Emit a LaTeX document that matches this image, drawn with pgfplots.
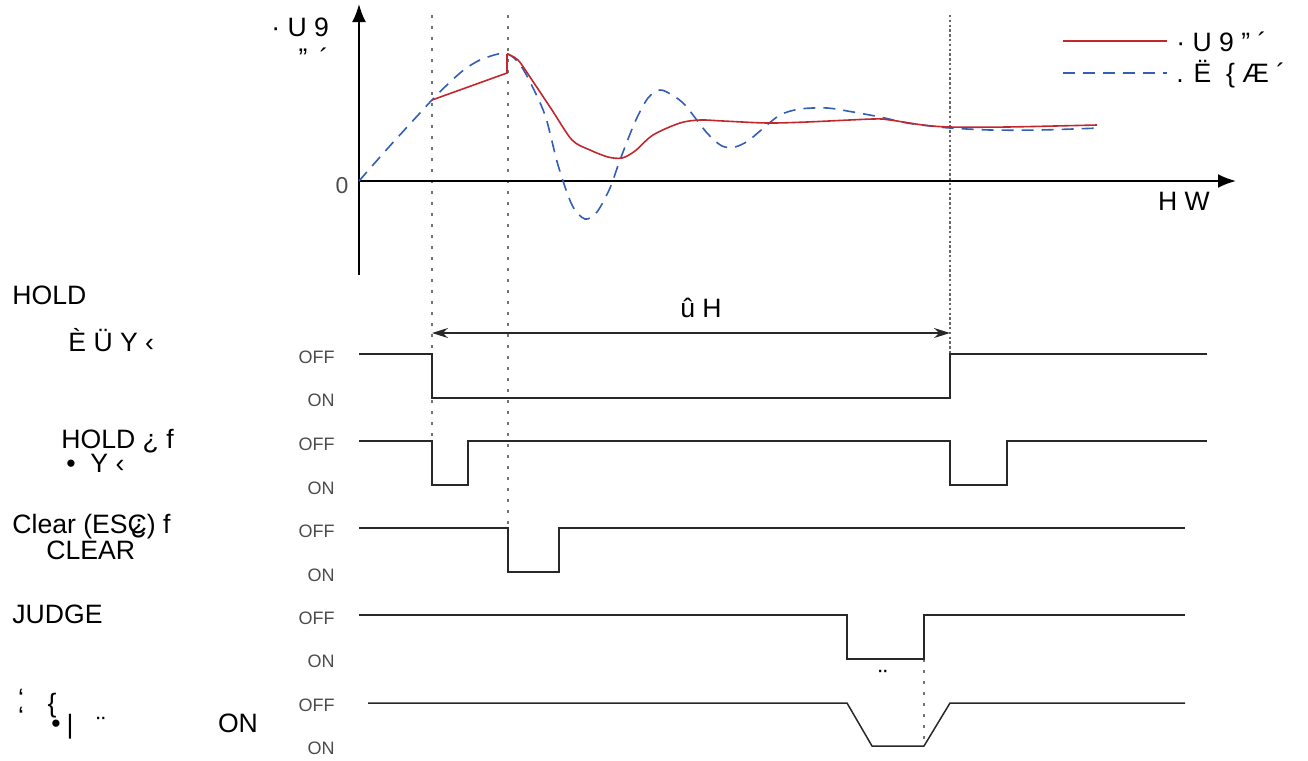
\documentclass[border=0pt]{standalone}
\usepackage{pgfplots}
\pgfplotsset{compat=1.18}
\usepackage{fontspec}
\setmainfont{Liberation Sans}
\usetikzlibrary{arrows.meta}
\definecolor{cred}{RGB}{192,40,45}
\definecolor{cblue}{RGB}{50,95,180}
\definecolor{sig}{RGB}{40,40,40}
\newcommand{\bigf}{\fontsize{13.3}{14}\selectfont}
\newcommand{\smlf}{\fontsize{9}{10}\selectfont\color{black!70}}
\begin{document}
\begin{tikzpicture}
\begin{axis}[scale only axis, width=654pt, height=380.5pt,
  xmin=0, xmax=1308, ymin=0, ymax=761, y dir=reverse,
  hide axis, clip=false]

% frame of the picture (invisible)
\path (axis cs:0,0) rectangle (axis cs:1308,761);

% guide lines
\draw[black!55, line width=0.8pt, dash pattern=on 1.5pt off 4pt] (axis cs:432,15) -- (axis cs:432,440);
\draw[black!55, line width=0.8pt, dash pattern=on 1.5pt off 4pt] (axis cs:508,15) -- (axis cs:508,528);
\draw[black!60, line width=1pt, dash pattern=on 1.2pt off 1.2pt] (axis cs:950,15) -- (axis cs:950,354);
\draw[black!55, line width=0.8pt, dash pattern=on 1.5pt off 4pt] (axis cs:924,659) -- (axis cs:924,746);

% axes of the top plot
\draw[black, line width=1pt, -{Latex[length=9pt,width=7pt]}] (axis cs:359,275) -- (axis cs:359,4);
\draw[black, line width=1pt, -{Latex[length=9pt,width=7pt]}] (axis cs:359,181) -- (axis cs:1236,181);

% curves
\addplot[cblue, line width=0.8pt, dash pattern=on 6pt off 4pt, smooth, tension=0.5] coordinates {
(359,181) (388,148) (420,113) (432,100) (450,82) (465,69) (480,60) (498,54) (508,54)
(518,62) (528,78) (545,115) (558,165) (572,205) (585,219) (597,212) (610,188) (620,160)
(635,122) (648,98) (660,90) (672,95) (685,105) (707,133) (722,146) (735,147) (748,141)
(760,131) (780,115) (800,109) (827,108) (853,112) (880,117) (907,123) (930,126) (950,128)
(990,130) (1040,130) (1100,128)};
\addplot[cred, line width=0.8pt] coordinates {(432,100) (507,73) (507,54)};
\addplot[cred, line width=0.8pt, smooth, tension=0.5] coordinates {
(507,54) (518,60) (532,80) (552,110) (572,140) (590,150) (608,157) (622,158) (635,151)
(653,135) (680,123) (700,120) (723,121) (767,123) (807,122) (873,119) (890,120) (923,125)
(950,127) (1007,127) (1097,125)};

% legend
\addplot[cred, line width=0.8pt] coordinates {(1063,41) (1167,41)};
\addplot[cblue, line width=0.8pt, dash pattern=on 6pt off 4pt] coordinates {(1063,73) (1167,73)};
\node[anchor=west, inner sep=0pt] at (axis cs:1176,42) {\bigf · U 9 ” ´};
\node[anchor=west, inner sep=0pt] at (axis cs:1176,74) {\bigf . Ë \ \{ Æ ´};

% signals
\addplot[sig, line width=0.75pt] coordinates {(359,354)(432,354)(432,398)(950,398)(950,354)(1207,354)};
\addplot[sig, line width=0.75pt] coordinates {(359,441)(432,441)(432,485)(468,485)(468,441)(950,441)(950,485)(1007,485)(1007,441)(1207,441)};
\addplot[sig, line width=0.75pt] coordinates {(359,528)(508,528)(508,572)(559,572)(559,528)(1185,528)};
\addplot[sig, line width=0.75pt] coordinates {(359,615)(847,615)(847,659)(924,659)(924,615)(1185,615)};
\addplot[sig, line width=0.75pt] coordinates {(368,703)(847,703)(872,746)(924,746)(950,703)(1185,703)};

% double arrow
\draw[sig, line width=0.75pt, {Stealth[length=8pt,width=5pt]}-{Stealth[length=8pt,width=5pt]}] (axis cs:432,333) -- (axis cs:950,333);
\node[inner sep=0pt] at (axis cs:701,308) {\bigf û H};

% axis texts
\node[inner sep=0pt] at (axis cs:342,186) {\fontsize{11.5}{12}\selectfont\color{black!70} 0};
\node[inner sep=0pt] at (axis cs:1184,201) {\bigf H W};
\node[anchor=west, inner sep=0pt] at (axis cs:271,27) {\bigf · U 9};
\node[inner sep=0pt] at (axis cs:303,52) {\bigf „};
\node[inner sep=0pt] at (axis cs:324,58) {\bigf ´};

% OFF / ON labels
\node[anchor=east, inner sep=0pt] at (axis cs:335,357) {\smlf OFF};
\node[anchor=east, inner sep=0pt] at (axis cs:335,400) {\smlf ON};
\node[anchor=east, inner sep=0pt] at (axis cs:335,444) {\smlf OFF};
\node[anchor=east, inner sep=0pt] at (axis cs:335,488) {\smlf ON};
\node[anchor=east, inner sep=0pt] at (axis cs:335,531) {\smlf OFF};
\node[anchor=east, inner sep=0pt] at (axis cs:335,575) {\smlf ON};
\node[anchor=east, inner sep=0pt] at (axis cs:335,618) {\smlf OFF};
\node[anchor=east, inner sep=0pt] at (axis cs:335,661) {\smlf ON};
\node[anchor=east, inner sep=0pt] at (axis cs:335,705) {\smlf OFF};
\node[anchor=east, inner sep=0pt] at (axis cs:335,748) {\smlf ON};

% left labels
\node[anchor=west, inner sep=0pt] at (axis cs:12,295) {\bigf HOLD};
\node[anchor=west, inner sep=0pt] at (axis cs:68,340) {\bigf È Ü Y ‹};
\node[anchor=west, inner sep=0pt] at (axis cs:61,441) {\bigf HOLD ¿ f};
\node[anchor=west, inner sep=0pt] at (axis cs:66,463) {\bigf •\ \ Y ‹};
\node[anchor=west, inner sep=0pt] at (axis cs:12,527) {\bigf Clear (ESC\llap{¿}) f};
\node[anchor=west, inner sep=0pt] at (axis cs:46,550) {\bigf CLEAR};
\node[anchor=west, inner sep=0pt] at (axis cs:12,614) {\bigf JUDGE};
\node[inner sep=0pt] at (axis cs:21,698) {\bigf ‘};
\node[inner sep=0pt] at (axis cs:52,706) {\bigf \{};
\node[inner sep=0pt] at (axis cs:21,716) {\bigf ‘};
\node[inner sep=0pt] at (axis cs:56,726) {\bigf •};
\node[inner sep=0pt] at (axis cs:70,727) {\bigf |};
\node[inner sep=0pt] at (axis cs:101,726) {\bigf ¨};
\node[inner sep=0pt] at (axis cs:238,723) {\bigf ON};
\node[inner sep=0pt] at (axis cs:883,679) {\bigf ¨};

\end{axis}
\end{tikzpicture}
\end{document}
